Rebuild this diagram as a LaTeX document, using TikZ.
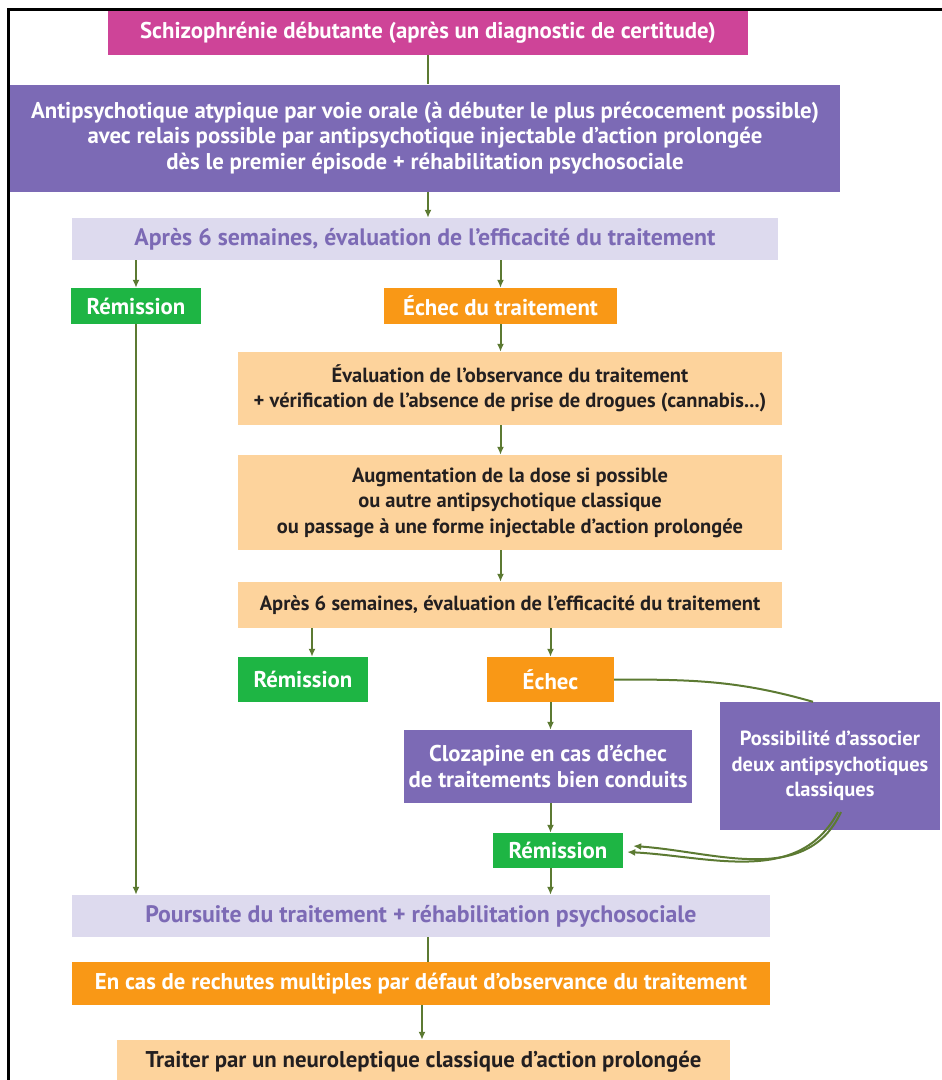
\documentclass[tikz,border=0pt]{standalone}
\usepackage{fontspec}
\setmainfont{PT Sans}
\usetikzlibrary{arrows.meta,positioning}
\definecolor{colRose}{RGB}{206,68,152}
\definecolor{colViolet}{RGB}{124,106,181}
\definecolor{colLavande}{RGB}{221,218,238}
\definecolor{colVert}{RGB}{30,181,68}
\definecolor{colOrange}{RGB}{249,152,22}
\definecolor{colPeche}{RGB}{253,211,156}
\definecolor{colFleche}{RGB}{92,122,50}
\definecolor{colTexte}{RGB}{35,31,32}

\begin{document}
\begin{tikzpicture}[x=1pt, y=-1pt, >={Latex[length=8pt,width=7pt]},
    box/.style = {inner sep=0pt, align=center, text=white, font=\bfseries\fontsize{22.8}{25.5}\selectfont},
    petit/.style = {font=\bfseries\fontsize{20.5}{25.5}\selectfont},
    rose/.style = {box, fill=colRose},
    violet/.style = {box, fill=colViolet},
    lavande/.style = {box, fill=colLavande, text=colViolet, font=\bfseries\fontsize{23.8}{25.5}\selectfont},
    vert/.style = {box, fill=colVert},
    orange/.style = {box, fill=colOrange},
    peche/.style = {box, petit, fill=colPeche, text=colTexte},
    lien/.style = {draw=colFleche, line width=2pt}]
    \useasboundingbox (0,0) rectangle (942,1080);

    \node[rose, minimum width=640pt, minimum height=45pt](diag) at (428,32.5) {Schizophrénie débutante (après un diagnostic de certitude)};
    \node[violet, minimum width=830pt, minimum height=107pt](atyp) at (425,138) {Antipsychotique atypique par voie orale (à débuter le plus précocement possible)\\avec relais possible par antipsychotique injectable d’action prolongée\\dès le premier épisode + réhabilitation psychosociale};
    \node[lavande, minimum width=706pt, minimum height=42pt](eval1) at (425,239) {Après 6 semaines, évaluation de l’efficacité du traitement};
    \node[vert, minimum width=130pt, minimum height=36pt](rem1) at (136,306) {Rémission};
    \node[orange, minimum width=233pt, minimum height=36pt](echec1) at (500.5,306) {Échec du traitement};
    \node[peche, minimum width=544pt, minimum height=73pt](obs) at (510,388.5) {Évaluation de l’observance du traitement\\+ vérification de l’absence de prise de drogues (cannabis...)};
    \node[peche, minimum width=544pt, minimum height=95pt](aug) at (510,502.5) {Augmentation de la dose si possible\\ou autre antipsychotique classique\\ou passage à une forme injectable d’action prolongée};
    \node[peche, minimum width=544pt, minimum height=46pt](eval2) at (510,605) {Après 6 semaines, évaluation de l’efficacité du traitement};
    \node[vert, minimum width=130pt, minimum height=45pt](rem2) at (303,679.5) {Rémission};
    \node[orange, minimum width=127pt, minimum height=45pt](echec2) at (550.5,679.5) {Échec};
    \node[violet, minimum width=288pt, minimum height=73pt](cloz) at (548,766.5) {Clozapine en cas d’échec\\de traitements bien conduits};
    \node[violet, petit, minimum width=220pt, minimum height=128pt](assoc) at (830,766) {Possibilité d’associer\\deux antipsychotiques\\classiques};
    \node[vert, minimum width=130pt, minimum height=35pt](rem3) at (558,850.5) {Rémission};
    \node[lavande, minimum width=698pt, minimum height=42pt](pours) at (421,916) {Poursuite du traitement + réhabilitation psychosociale};
    \node[orange, minimum width=698pt, minimum height=43pt](rech) at (421,983.5) {En cas de rechutes multiples par défaut d’observance du traitement};
    \node[box, fill=colPeche, text=colTexte, minimum width=613pt, minimum height=43pt](neuro) at (423.5,1061.5) {Traiter par un neuroleptique classique d’action prolongée};

    \coordinate (depart) at (841,812);

    \draw[lien] (diag.south) -- (diag.south |- atyp.north);
    \draw[lien, ->] (atyp.south -| diag.south) -- (eval1.north -| diag.south);
    \draw[lien, ->] (eval1.south -| rem1) -- (rem1.north);
    \draw[lien, ->] (eval1.south -| echec1) -- (echec1.north);
    \draw[lien, ->] (echec1.south) -- (echec1.south |- obs.north);
    \draw[lien, ->] (obs.south -| echec1) -- (aug.north -| echec1);
    \draw[lien, ->] (aug.south -| echec1) -- (eval2.north -| echec1);
    \draw[lien, ->] ([xshift=9pt]eval2.south -| rem2) -- ([xshift=9pt]rem2.north);
    \draw[lien, ->] (eval2.south -| echec2) -- (echec2.north);
    \draw[lien, ->] (echec2.south) -- (echec2.south |- cloz.north);
    \draw[lien, ->] (cloz.south -| echec2) -- (rem3.north -| echec2);
    \draw[lien] (echec2.east) to[out=0, in=164] ([xshift=-17pt]assoc.north);
    \draw[lien, ->] (depart) to[out=-115, in=-4] ([xshift=10pt, yshift=4.5pt]rem3.east);
    \draw[lien, ->] ([xshift=-3pt]depart) to[out=-118, in=-3] ([xshift=4pt, yshift=-1.5pt]rem3.east);
    \draw[lien, ->] (rem1.south) -- (rem1.south |- pours.north);
    \draw[lien, ->] (rem3.south -| echec2) -- (pours.north -| echec2);
    \draw[lien] (pours.south -| diag.south) -- (rech.north -| diag.south);
    \draw[lien, ->] ([xshift=-6pt]rech.south -| diag.south) -- ([xshift=-6pt]neuro.north -| diag.south);

    \draw[line width=3pt] (942,9) -- (8,9) -- (8,1080);
\end{tikzpicture}
\end{document}
